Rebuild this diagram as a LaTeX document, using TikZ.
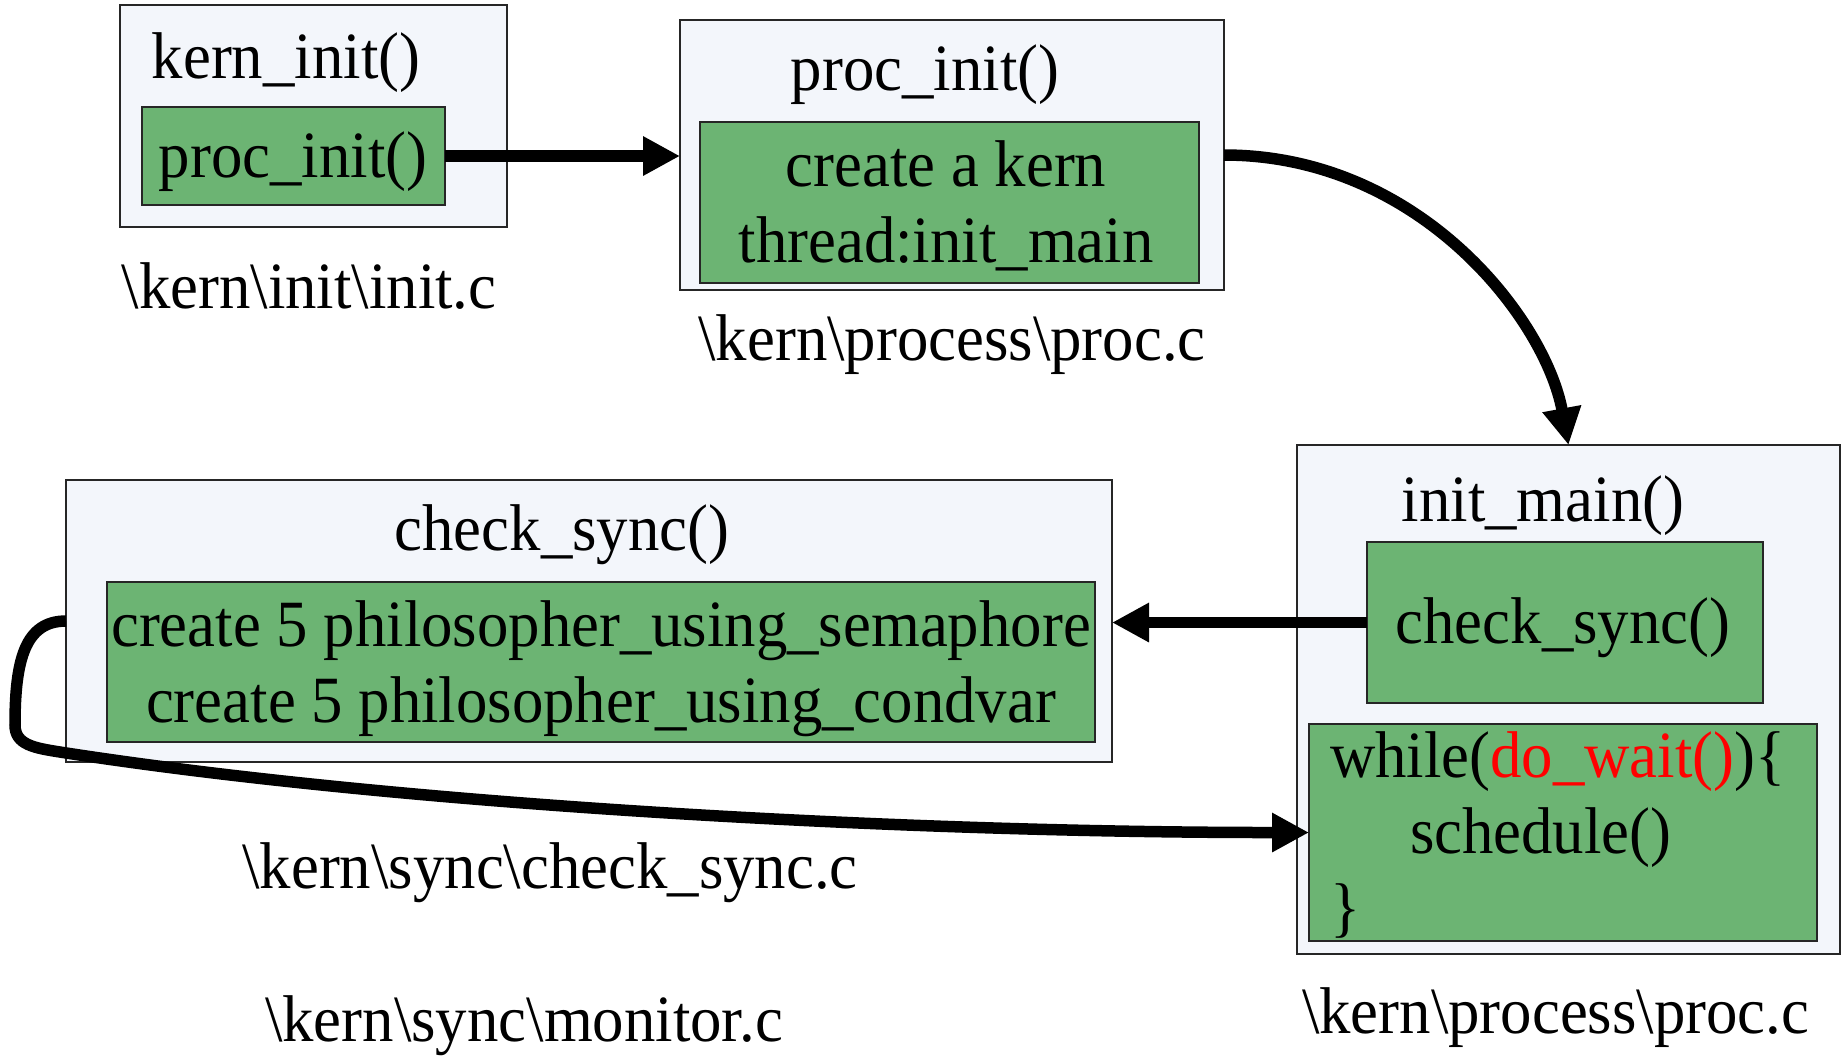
\documentclass[tikz,border=0pt]{standalone}
\usepackage{xcolor}
\usepackage{fontspec}
\setmainfont{Liberation Serif}[FakeStretch=0.95]
\usepackage{tikz}
\usetikzlibrary{arrows.meta}

\definecolor{boxbg}{RGB}{243,246,251}
\definecolor{codegreen}{RGB}{108,180,115}

\begin{document}
\begin{tikzpicture}[
			every node/.style = {inner sep=0pt, outer sep=0pt, font=\fontsize{18.8}{21.6}\selectfont},
			outer/.style = {draw=black!85, line width=.6pt, fill=boxbg, anchor=north west},
			call/.style = {draw=black!85, line width=.6pt, fill=codegreen, anchor=north west},
			txt/.style = {anchor=base},
			flow/.style = {line width=1.15mm, -{Triangle[length=3.7mm,width=3.7mm]}}
		]
			\useasboundingbox (0,0) rectangle (18.42,-10.55);

			% kern_init
			\node[outer, minimum width=3.87cm, minimum height=2.22cm] (kernbox) at (1.20,-0.05) {};
			\node[txt] (kerntitle) at (2.86,-0.78) {kern\_init()};
			\node[call, minimum width=3.03cm, minimum height=0.98cm] (kerncall) at (1.42,-1.07) {};
			\node[txt] (kerncalltext) at (2.93,-1.77) {proc\_init()};
			\node[txt] (kernfile) at (3.09,-3.08) {\textbackslash kern\textbackslash init\textbackslash init.c};

			% proc_init
			\node[outer, minimum width=5.44cm, minimum height=2.70cm] (procbox) at (6.80,-0.20) {};
			\node[txt] (proctitle) at (9.25,-0.90) {proc\_init()};
			\node[call, minimum width=4.99cm, minimum height=1.61cm] (proccall) at (7.00,-1.22) {};
			\node[txt, align=center] (proccalltext) at (9.46,-2.62) {create a kern\\thread:init\_main};
			\node[txt] (procfile) at (9.52,-3.60) {\textbackslash kern\textbackslash process\textbackslash proc.c};

			% init_main
			\node[outer, minimum width=5.43cm, minimum height=5.09cm] (initbox) at (12.97,-4.45) {};
			\node[txt] (inittitle) at (15.43,-5.21) {init\_main()};
			\node[call, minimum width=3.96cm, minimum height=1.61cm] (synccall) at (13.67,-5.42) {};
			\node[txt] (synccalltext) at (15.63,-6.43) {check\_sync()};
			\node[call, minimum width=5.08cm, minimum height=2.17cm] (waitloop) at (13.09,-7.24) {};
			\node[txt, anchor=base west, align=left] (waitlooptext) at (13.30,-9.29) {while({\color{red}do\_wait()})\{\\\hspace*{8mm}schedule()\\\}};
			\node[txt, anchor=base west] (initfile) at (13.02,-10.33) {\textbackslash kern\textbackslash process\textbackslash proc.c};

			% check_sync
			\node[outer, minimum width=10.46cm, minimum height=2.82cm] (syncbox) at (0.66,-4.80) {};
			\node[txt] (synctitle) at (5.62,-5.50) {check\_sync()};
			\node[call, minimum width=9.88cm, minimum height=1.60cm] (philo) at (1.07,-5.82) {};
			\node[txt, align=center] (philotext) at (6.01,-7.22) {create 5 philosopher\_using\_semaphore\\create 5 philosopher\_using\_condvar};
			\node[txt] (syncfile) at (5.50,-8.88) {\textbackslash kern\textbackslash sync\textbackslash check\_sync.c};
			\node[txt] (monitorfile) at (5.24,-10.41) {\textbackslash kern\textbackslash sync\textbackslash monitor.c};

			% calls
			\draw[flow] (kerncall.east) -- (procbox.west |- kerncall.east);
			\draw[flow] (procbox.east) .. controls +(1.96,0) and +(-0.23,1.25) .. (initbox.north);
			\draw[flow] (synccall.west) -- (syncbox.east |- synccall.west);

			\coordinate (loopdown) at (0.15,-7.25);
			\coordinate (loopturn) at (0.60,-7.52);
			\draw[flow] (syncbox.west) .. controls +(-0.41,0) and +(0,0.65) .. (loopdown)
				.. controls +(0,-0.20) and +(-0.25,0.04) .. (loopturn)
				.. controls +(3.40,-0.53) and +(-4.09,0) .. (waitloop.west);

		\end{tikzpicture}
\end{document}
